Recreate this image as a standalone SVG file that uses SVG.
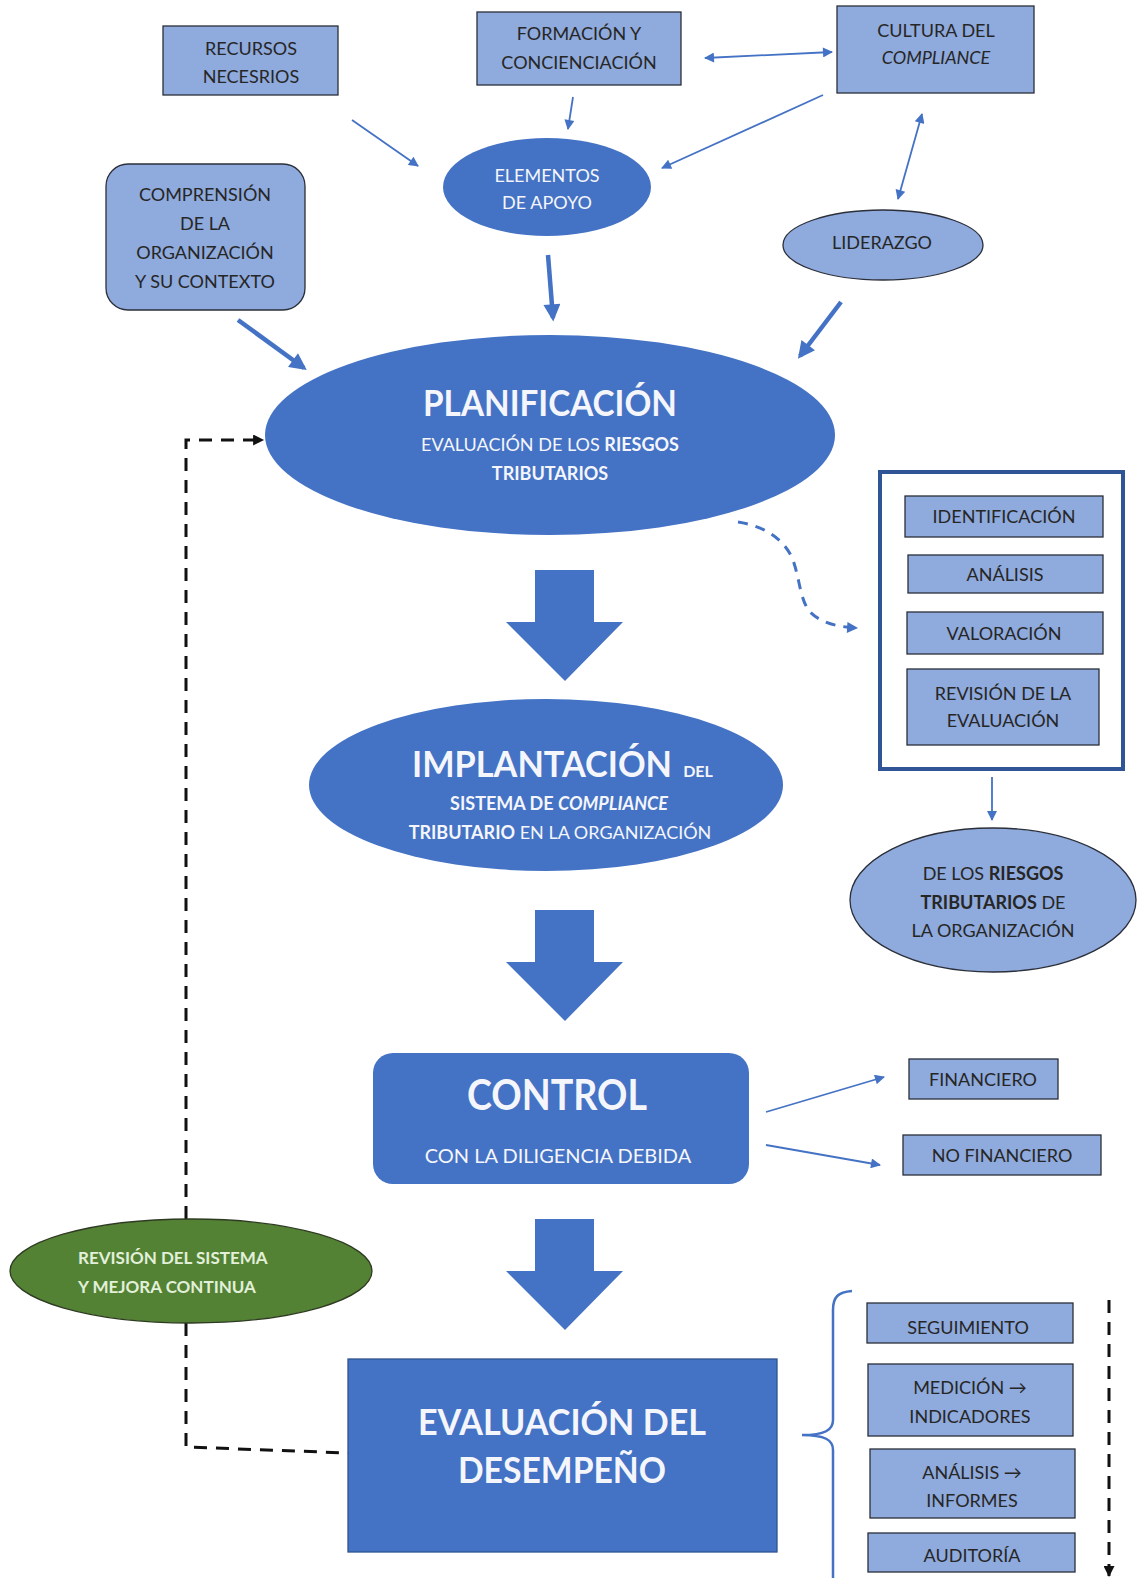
<svg xmlns="http://www.w3.org/2000/svg" width="1137" height="1578" viewBox="0 0 1137 1578">
<style>
text{font-family:Lato,"Liberation Sans",sans-serif;text-anchor:middle}
.lt{fill:#8FAADC;stroke:#2B2F3A;stroke-width:1.3}
.dk{fill:#4472C4}
.t{font-size:18px;fill:#262626}
.w{fill:#F4F6FB}
.b{font-weight:bold}
.thin{stroke:#4472C4;stroke-width:1.8;fill:none}
.thick{stroke:#4472C4;stroke-width:4.5;fill:none}
.blk{stroke:#111;stroke-width:3;fill:none;stroke-dasharray:13 9}
</style>
<defs>
<marker id="ah" viewBox="0 0 10 10" refX="9" refY="5" markerWidth="13" markerHeight="10" markerUnits="userSpaceOnUse" orient="auto-start-reverse"><path d="M0,0 L10,5 L0,10 z" fill="#4472C4"/></marker>
<marker id="ahT" viewBox="0 0 10 10" refX="8" refY="5" markerWidth="19" markerHeight="17" markerUnits="userSpaceOnUse" orient="auto"><path d="M0,0 L10,5 L0,10 z" fill="#4472C4"/></marker>
<marker id="ahK" viewBox="0 0 10 10" refX="9" refY="5" markerWidth="13" markerHeight="11" markerUnits="userSpaceOnUse" orient="auto"><path d="M0,0 L10,5 L0,10 z" fill="#111"/></marker>
<marker id="ahD" viewBox="0 0 10 10" refX="9" refY="5" markerWidth="14" markerHeight="11" markerUnits="userSpaceOnUse" orient="auto"><path d="M0,0 L10,5 L0,10 z" fill="#4472C4"/></marker>
<path id="bigArrow" d="M-30,0 H29 V52 H58 L0,111 L-59,52 H-30 Z" fill="#4472C4"/>
</defs>

<g id="connectors">
<line class="thin" x1="352" y1="120" x2="418" y2="166" marker-end="url(#ah)"/>
<line class="thin" x1="573" y1="97" x2="568" y2="129" marker-end="url(#ah)"/>
<line class="thin" x1="823" y1="95" x2="662" y2="168" marker-end="url(#ah)"/>
<line class="thin" x1="705" y1="58" x2="832" y2="52" marker-start="url(#ah)" marker-end="url(#ah)"/>
<line class="thin" x1="922" y1="114" x2="898" y2="199" marker-start="url(#ah)" marker-end="url(#ah)"/>
<line class="thick" x1="548" y1="255" x2="553" y2="318" marker-end="url(#ahT)"/>
<line class="thick" x1="238" y1="320" x2="304" y2="368" marker-end="url(#ahT)"/>
<line class="thick" x1="841" y1="302" x2="800" y2="356" marker-end="url(#ahT)"/>
<path d="M738,522 C765,526 785,540 793,560 C800,580 800,600 810,612 C822,624 840,627 857,628" stroke="#4472C4" stroke-width="3" fill="none" stroke-dasharray="10 8" marker-end="url(#ahD)"/>
<line class="thin" x1="992" y1="777" x2="992" y2="820" marker-end="url(#ah)"/>
<line class="thin" x1="766" y1="1112" x2="884" y2="1077" marker-end="url(#ah)"/>
<line class="thin" x1="766" y1="1145" x2="880" y2="1165" marker-end="url(#ah)"/>
<use href="#bigArrow" x="565" y="570"/>
<use href="#bigArrow" x="565" y="910"/>
<use href="#bigArrow" x="565" y="1219"/>
<path class="blk" d="M186,1219 V440 H263" marker-end="url(#ahK)"/>
<path class="blk" d="M186,1323 V1447 L348,1453"/>
<path class="blk" d="M1109,1300 V1576" marker-end="url(#ahK)"/>
<path d="M852,1291 C838,1292 833,1297 833,1310 V1420 C833,1430 825,1435 802,1435 C825,1435 833,1440 833,1450 V1578" stroke="#4472C4" stroke-width="2.5" fill="none"/>
</g>

<g id="recursos"><rect class="lt" x="163" y="26" width="175" height="69"/>
<text class="t" x="251" y="54.5">RECURSOS</text><text class="t" x="251" y="82.5">NECESRIOS</text></g>

<g id="formacion"><rect class="lt" x="477" y="12" width="204" height="73"/>
<text class="t" x="579" y="39.5">FORMACIÓN Y</text><text class="t" x="579" y="68.5">CONCIENCIACIÓN</text></g>

<g id="cultura"><rect class="lt" x="837" y="6" width="197" height="87"/>
<text class="t" x="936" y="36.5">CULTURA DEL</text><text class="t" x="936" y="63.5" font-style="italic">COMPLIANCE</text></g>

<g id="elementos"><ellipse class="dk" cx="547" cy="187" rx="104" ry="49"/>
<text class="t w" x="547" y="181.5">ELEMENTOS</text><text class="t w" x="547" y="208.5">DE APOYO</text></g>

<g id="comprension"><rect class="lt" x="106" y="164" width="199" height="146" rx="22"/>
<text class="t" x="205" y="200.5">COMPRENSIÓN</text><text class="t" x="205" y="229.5">DE LA</text><text class="t" x="205" y="258.5">ORGANIZACIÓN</text><text class="t" x="205" y="287.5">Y SU CONTEXTO</text></g>

<g id="liderazgo"><ellipse class="lt" cx="883" cy="245" rx="100" ry="35"/>
<text class="t" x="882" y="248.5">LIDERAZGO</text></g>

<g id="planificacion"><ellipse class="dk" cx="550" cy="435" rx="285" ry="100"/>
<text class="w b" x="550" y="416" font-size="36" textLength="254" lengthAdjust="spacingAndGlyphs">PLANIFICACIÓN</text>
<text class="w" x="550" y="451" font-size="18">EVALUACIÓN DE LOS <tspan class="b">RIESGOS</tspan></text>
<text class="w b" x="550" y="480" font-size="18">TRIBUTARIOS</text></g>

<g id="evaluacion-riesgos"><rect x="880" y="472" width="243" height="297" fill="#fff" stroke="#2F5597" stroke-width="4"/>
<rect class="lt" x="905" y="496" width="198" height="41"/><text class="t" x="1004" y="523">IDENTIFICACIÓN</text>
<rect class="lt" x="908" y="555" width="195" height="38"/><text class="t" x="1005" y="581">ANÁLISIS</text>
<rect class="lt" x="907" y="612" width="196" height="42"/><text class="t" x="1004" y="639.5">VALORACIÓN</text>
<rect class="lt" x="907" y="669" width="192" height="76"/><text class="t" x="1003" y="699.5">REVISIÓN DE LA</text><text class="t" x="1003" y="726.5">EVALUACIÓN</text></g>

<g id="riesgos-org"><ellipse class="lt" cx="993" cy="900" rx="143" ry="72"/>
<text class="t" x="993" y="879.5">DE LOS <tspan class="b">RIESGOS</tspan></text>
<text class="t" x="993" y="908.5"><tspan class="b">TRIBUTARIOS</tspan> DE</text>
<text class="t" x="993" y="936.5">LA ORGANIZACIÓN</text></g>

<g id="implantacion"><ellipse class="dk" cx="546" cy="785" rx="237" ry="86"/>
<text class="w b" x="542" y="777" font-size="36" textLength="260" lengthAdjust="spacingAndGlyphs">IMPLANTACIÓN</text>
<text class="w b" x="698" y="777" font-size="16">DEL</text>
<text class="w b" x="559" y="809.5" font-size="18">SISTEMA DE <tspan font-style="italic">COMPLIANCE</tspan></text>
<text class="w" x="560" y="838.5" font-size="18"><tspan class="b">TRIBUTARIO</tspan> EN LA ORGANIZACIÓN</text></g>

<g id="control"><rect class="dk" x="373" y="1053" width="376" height="131" rx="20"/>
<text class="w b" x="557" y="1110" font-size="42" textLength="180" lengthAdjust="spacingAndGlyphs">CONTROL</text>
<text class="w" x="558" y="1163" font-size="20">CON LA DILIGENCIA DEBIDA</text></g>

<g id="financiero"><rect class="lt" x="909" y="1059" width="149" height="40"/><text class="t" x="983" y="1085.5">FINANCIERO</text></g>
<g id="no-financiero"><rect class="lt" x="903" y="1135" width="198" height="40"/><text class="t" x="1002" y="1161.5">NO FINANCIERO</text></g>

<g id="revision"><ellipse cx="191" cy="1271" rx="181" ry="52" fill="#548235" stroke="#2E3B22" stroke-width="1.3"/>
<text class="b" x="78" y="1264" font-size="17" fill="#E2F0D9" style="text-anchor:start">REVISIÓN DEL SISTEMA</text>
<text class="b" x="78" y="1293" font-size="17" fill="#E2F0D9" style="text-anchor:start">Y MEJORA CONTINUA</text></g>

<g id="desempeno"><rect class="dk" x="348" y="1359" width="429" height="193" stroke="#2F528F" stroke-width="1.3"/>
<text class="w b" x="562" y="1435" font-size="36" textLength="288" lengthAdjust="spacingAndGlyphs">EVALUACIÓN DEL</text>
<text class="w b" x="562" y="1483" font-size="36" textLength="208" lengthAdjust="spacingAndGlyphs">DESEMPEÑO</text></g>

<g id="seguimiento"><rect class="lt" x="867" y="1303" width="206" height="40"/><text class="t" x="968" y="1333.5">SEGUIMIENTO</text></g>
<g id="medicion"><rect class="lt" x="868" y="1364" width="205" height="72"/><text class="t" x="970" y="1393.5">MEDICIÓN →</text><text class="t" x="970" y="1422.5">INDICADORES</text></g>
<g id="analisis"><rect class="lt" x="870" y="1449" width="205" height="69"/><text class="t" x="972" y="1478.5">ANÁLISIS →</text><text class="t" x="972" y="1506.5">INFORMES</text></g>
<g id="auditoria"><rect class="lt" x="868" y="1533" width="207" height="39"/><text class="t" x="972" y="1561.5">AUDITORÍA</text></g>
</svg>
